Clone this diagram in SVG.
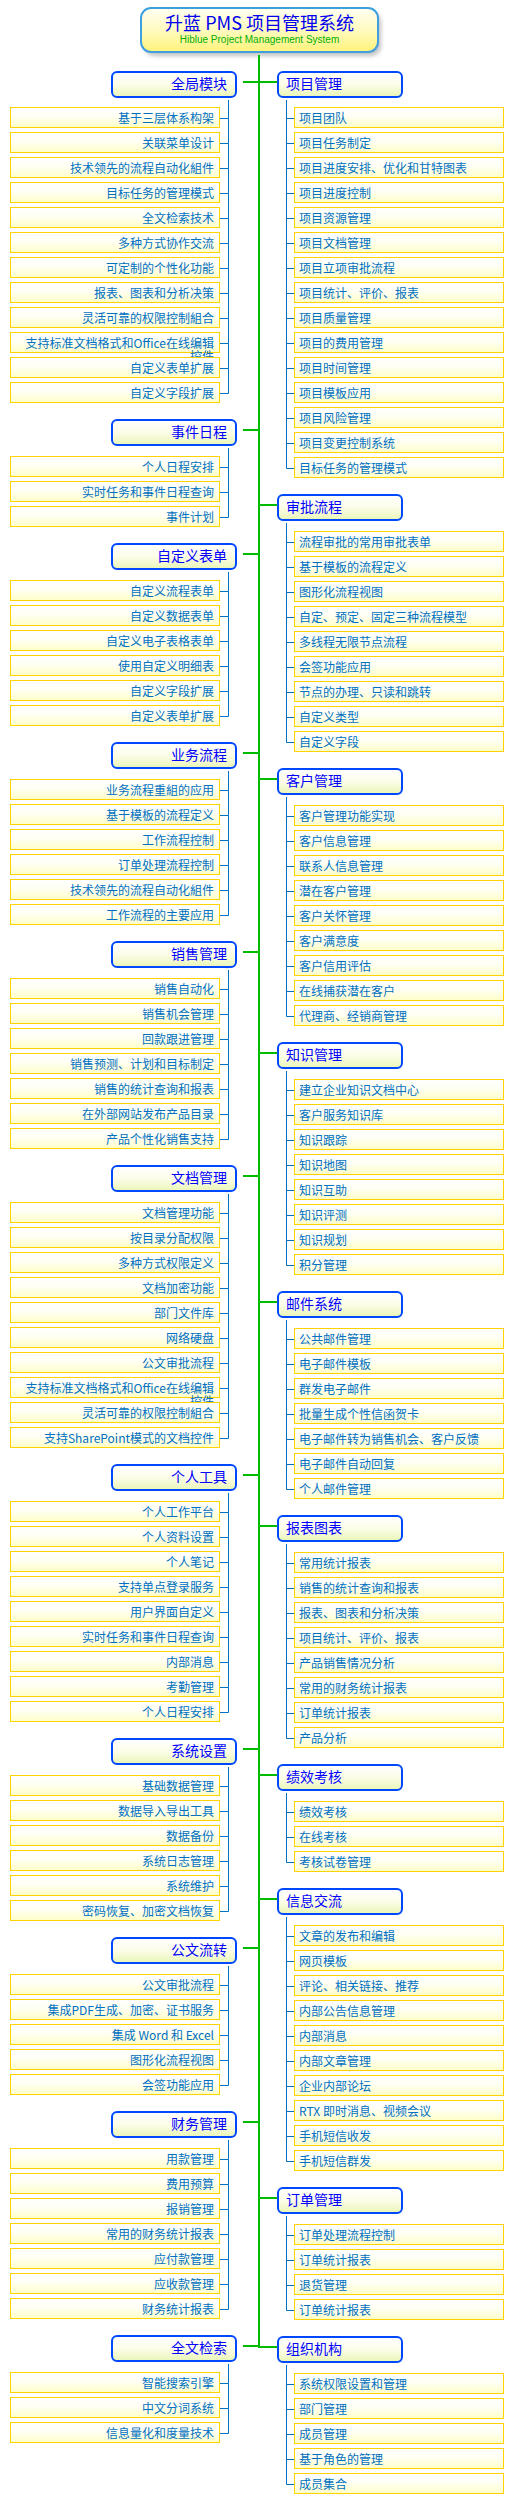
<svg xmlns="http://www.w3.org/2000/svg" width="518" height="2515" viewBox="0 0 518 2515">
<defs>
<linearGradient id="gl" x1="0" y1="0" x2="0" y2="1"><stop offset="0" stop-color="#ffffff"/><stop offset="0.45" stop-color="#fffff4"/><stop offset="1" stop-color="#ffffc8"/></linearGradient>
<linearGradient id="gc" x1="0" y1="0" x2="0" y2="1"><stop offset="0" stop-color="#ffffff"/><stop offset="0.5" stop-color="#fcfde8"/><stop offset="1" stop-color="#e9f6b6"/></linearGradient>
<linearGradient id="gt" x1="0" y1="0" x2="0" y2="1"><stop offset="0" stop-color="#fffff2"/><stop offset="0.5" stop-color="#fffbc0"/><stop offset="1" stop-color="#fff27a"/></linearGradient>
<filter id="sh" x="-10%" y="-30%" width="120%" height="160%"><feGaussianBlur stdDeviation="2"/></filter>
</defs>
<style>
.leaf{fill:url(#gl);stroke:#ffd200;stroke-width:1}
.cat{fill:url(#gc);stroke:#0048ff;stroke-width:2}
.lt{font-family:"Noto Sans CJK SC",sans-serif;font-size:12px;fill:#0070c0}
.e{text-anchor:end}
.ct{font-family:"Noto Sans CJK SC",sans-serif;font-size:14px;fill:#0000ff}
.g{stroke:#00bb00;stroke-width:2;fill:none}
.b{stroke:#0070c0;stroke-width:1;fill:none}
</style>
<rect width="518" height="2515" fill="#ffffff"/>
<g id="title">
<rect x="144" y="12" width="237" height="44" rx="10" fill="#9a9a9a" opacity="0.6" filter="url(#sh)"/>
<rect x="141" y="8" width="237" height="44" rx="10" fill="url(#gt)" stroke="#3fa0e0" stroke-width="2"/>
<text x="259.5" y="30" text-anchor="middle" font-family="Noto Sans CJK SC, sans-serif" font-size="18" fill="#0000ee" xml:space="preserve">升蓝 PMS 项目管理系统</text>
<text x="259.5" y="42.5" text-anchor="middle" font-family="Liberation Sans, sans-serif" font-size="10" fill="#00b000">Hiblue Project Management System</text>
</g>
<g id="connectors">
<path class="g" d="M259 55V2348"/>
<path class="g" d="M243 82H259M243 430H259M243 554H259M243 753H259M243 952H259M243 1176H259M243 1475H259M243 1749H259M243 1948H259M243 2122H259M243 2346H259"/>
<path class="g" d="M259 82H277M259 505H277M259 779H277M259 1053H277M259 1302H277M259 1526H277M259 1775H277M259 1899H277M259 2198H277M258 2347H277"/>
<path class="b" d="M228.5 100V393.5M220 118.5H228.5M220 143.5H228.5M220 168.5H228.5M220 193.5H228.5M220 218.5H228.5M220 243.5H228.5M220 268.5H228.5M220 293.5H228.5M220 318.5H228.5M220 343.5H228.5M220 368.5H228.5M220 393.5H228.5"/>
<path class="b" d="M228.5 448V517.5M220 467.5H228.5M220 492.5H228.5M220 517.5H228.5"/>
<path class="b" d="M228.5 572V716.5M220 591.5H228.5M220 616.5H228.5M220 641.5H228.5M220 666.5H228.5M220 691.5H228.5M220 716.5H228.5"/>
<path class="b" d="M228.5 771V915.5M220 790.5H228.5M220 815.5H228.5M220 840.5H228.5M220 865.5H228.5M220 890.5H228.5M220 915.5H228.5"/>
<path class="b" d="M228.5 970V1139.5M220 989.5H228.5M220 1014.5H228.5M220 1039.5H228.5M220 1064.5H228.5M220 1089.5H228.5M220 1114.5H228.5M220 1139.5H228.5"/>
<path class="b" d="M228.5 1194V1438.5M220 1213.5H228.5M220 1238.5H228.5M220 1263.5H228.5M220 1288.5H228.5M220 1313.5H228.5M220 1338.5H228.5M220 1363.5H228.5M220 1388.5H228.5M220 1413.5H228.5M220 1438.5H228.5"/>
<path class="b" d="M228.5 1493V1712.5M220 1512.5H228.5M220 1537.5H228.5M220 1562.5H228.5M220 1587.5H228.5M220 1612.5H228.5M220 1637.5H228.5M220 1662.5H228.5M220 1687.5H228.5M220 1712.5H228.5"/>
<path class="b" d="M228.5 1767V1911.5M220 1786.5H228.5M220 1811.5H228.5M220 1836.5H228.5M220 1861.5H228.5M220 1886.5H228.5M220 1911.5H228.5"/>
<path class="b" d="M228.5 1966V2085.5M220 1985.5H228.5M220 2010.5H228.5M220 2035.5H228.5M220 2060.5H228.5M220 2085.5H228.5"/>
<path class="b" d="M228.5 2140V2309.5M220 2159.5H228.5M220 2184.5H228.5M220 2209.5H228.5M220 2234.5H228.5M220 2259.5H228.5M220 2284.5H228.5M220 2309.5H228.5"/>
<path class="b" d="M228.5 2364V2433.5M220 2383.5H228.5M220 2408.5H228.5M220 2433.5H228.5"/>
<path class="b" d="M286.5 100V468.5M286.5 118.5H294M286.5 143.5H294M286.5 168.5H294M286.5 193.5H294M286.5 218.5H294M286.5 243.5H294M286.5 268.5H294M286.5 293.5H294M286.5 318.5H294M286.5 343.5H294M286.5 368.5H294M286.5 393.5H294M286.5 418.5H294M286.5 443.5H294M286.5 468.5H294"/>
<path class="b" d="M286.5 523V742.5M286.5 542.5H294M286.5 567.5H294M286.5 592.5H294M286.5 617.5H294M286.5 642.5H294M286.5 667.5H294M286.5 692.5H294M286.5 717.5H294M286.5 742.5H294"/>
<path class="b" d="M286.5 797V1016.5M286.5 816.5H294M286.5 841.5H294M286.5 866.5H294M286.5 891.5H294M286.5 916.5H294M286.5 941.5H294M286.5 966.5H294M286.5 991.5H294M286.5 1016.5H294"/>
<path class="b" d="M286.5 1071V1265.5M286.5 1090.5H294M286.5 1115.5H294M286.5 1140.5H294M286.5 1165.5H294M286.5 1190.5H294M286.5 1215.5H294M286.5 1240.5H294M286.5 1265.5H294"/>
<path class="b" d="M286.5 1320V1489.5M286.5 1339.5H294M286.5 1364.5H294M286.5 1389.5H294M286.5 1414.5H294M286.5 1439.5H294M286.5 1464.5H294M286.5 1489.5H294"/>
<path class="b" d="M286.5 1544V1738.5M286.5 1563.5H294M286.5 1588.5H294M286.5 1613.5H294M286.5 1638.5H294M286.5 1663.5H294M286.5 1688.5H294M286.5 1713.5H294M286.5 1738.5H294"/>
<path class="b" d="M286.5 1793V1862.5M286.5 1812.5H294M286.5 1837.5H294M286.5 1862.5H294"/>
<path class="b" d="M286.5 1917V2161.5M286.5 1936.5H294M286.5 1961.5H294M286.5 1986.5H294M286.5 2011.5H294M286.5 2036.5H294M286.5 2061.5H294M286.5 2086.5H294M286.5 2111.5H294M286.5 2136.5H294M286.5 2161.5H294"/>
<path class="b" d="M286.5 2216V2310.5M286.5 2235.5H294M286.5 2260.5H294M286.5 2285.5H294M286.5 2310.5H294"/>
<path class="b" d="M286.5 2365V2484.5M286.5 2384.5H294M286.5 2409.5H294M286.5 2434.5H294M286.5 2459.5H294M286.5 2484.5H294"/>
</g>
<!-- left categories -->
<g id="c-quanju"><rect class="cat" x="112" y="72" width="124" height="25" rx="5"/><text class="ct e" x="227" y="89">全局模块</text></g>
<g id="c-shijian"><rect class="cat" x="112" y="420" width="124" height="25" rx="5"/><text class="ct e" x="227" y="437">事件日程</text></g>
<g id="c-biaodan"><rect class="cat" x="112" y="544" width="124" height="25" rx="5"/><text class="ct e" x="227" y="561">自定义表单</text></g>
<g id="c-yewu"><rect class="cat" x="112" y="743" width="124" height="25" rx="5"/><text class="ct e" x="227" y="760">业务流程</text></g>
<g id="c-xiaoshou"><rect class="cat" x="112" y="942" width="124" height="25" rx="5"/><text class="ct e" x="227" y="959">销售管理</text></g>
<g id="c-wendang"><rect class="cat" x="112" y="1166" width="124" height="25" rx="5"/><text class="ct e" x="227" y="1183">文档管理</text></g>
<g id="c-geren"><rect class="cat" x="112" y="1465" width="124" height="25" rx="5"/><text class="ct e" x="227" y="1482">个人工具</text></g>
<g id="c-xitong"><rect class="cat" x="112" y="1739" width="124" height="25" rx="5"/><text class="ct e" x="227" y="1756">系统设置</text></g>
<g id="c-gongwen"><rect class="cat" x="112" y="1938" width="124" height="25" rx="5"/><text class="ct e" x="227" y="1955">公文流转</text></g>
<g id="c-caiwu"><rect class="cat" x="112" y="2112" width="124" height="25" rx="5"/><text class="ct e" x="227" y="2129">财务管理</text></g>
<g id="c-jiansuo"><rect class="cat" x="112" y="2336" width="124" height="25" rx="5"/><text class="ct e" x="227" y="2353">全文检索</text></g>
<!-- right categories -->
<g id="c-xiangmu"><rect class="cat" x="278" y="72" width="124" height="25" rx="5"/><text class="ct" x="286" y="89">项目管理</text></g>
<g id="c-shenpi"><rect class="cat" x="278" y="495" width="124" height="25" rx="5"/><text class="ct" x="286" y="512">审批流程</text></g>
<g id="c-kehu"><rect class="cat" x="278" y="769" width="124" height="25" rx="5"/><text class="ct" x="286" y="786">客户管理</text></g>
<g id="c-zhishi"><rect class="cat" x="278" y="1043" width="124" height="25" rx="5"/><text class="ct" x="286" y="1060">知识管理</text></g>
<g id="c-youjian"><rect class="cat" x="278" y="1292" width="124" height="25" rx="5"/><text class="ct" x="286" y="1309">邮件系统</text></g>
<g id="c-baobiao"><rect class="cat" x="278" y="1516" width="124" height="25" rx="5"/><text class="ct" x="286" y="1533">报表图表</text></g>
<g id="c-jixiao"><rect class="cat" x="278" y="1765" width="124" height="25" rx="5"/><text class="ct" x="286" y="1782">绩效考核</text></g>
<g id="c-xinxi"><rect class="cat" x="278" y="1889" width="124" height="25" rx="5"/><text class="ct" x="286" y="1906">信息交流</text></g>
<g id="c-dingdan"><rect class="cat" x="278" y="2188" width="124" height="25" rx="5"/><text class="ct" x="286" y="2205">订单管理</text></g>
<g id="c-zuzhi"><rect class="cat" x="278" y="2337" width="124" height="25" rx="5"/><text class="ct" x="286" y="2354">组织机构</text></g>
<!-- left leaves -->
<g id="l1-1"><rect class="leaf" x="10.5" y="107.5" width="209" height="20"/><text class="lt e" x="214" y="122.5">基于三层体系构架</text></g>
<g id="l1-2"><rect class="leaf" x="10.5" y="132.5" width="209" height="20"/><text class="lt e" x="214" y="147.5">关联菜单设计</text></g>
<g id="l1-3"><rect class="leaf" x="10.5" y="157.5" width="209" height="20"/><text class="lt e" x="214" y="172.5">技术领先的流程自动化組件</text></g>
<g id="l1-4"><rect class="leaf" x="10.5" y="182.5" width="209" height="20"/><text class="lt e" x="214" y="197.5">目标任务的管理模式</text></g>
<g id="l1-5"><rect class="leaf" x="10.5" y="207.5" width="209" height="20"/><text class="lt e" x="214" y="222.5">全文检索技术</text></g>
<g id="l1-6"><rect class="leaf" x="10.5" y="232.5" width="209" height="20"/><text class="lt e" x="214" y="247.5">多种方式协作交流</text></g>
<g id="l1-7"><rect class="leaf" x="10.5" y="257.5" width="209" height="20"/><text class="lt e" x="214" y="272.5">可定制的个性化功能</text></g>
<g id="l1-8"><rect class="leaf" x="10.5" y="282.5" width="209" height="20"/><text class="lt e" x="214" y="297.5">报表、图表和分析决策</text></g>
<g id="l1-9"><rect class="leaf" x="10.5" y="307.5" width="209" height="20"/><text class="lt e" x="214" y="322.5">灵活可靠的权限控制組合</text></g>
<g id="l1-10"><rect class="leaf" x="10.5" y="332.5" width="209" height="20"/><text class="lt e" x="214" y="347.5">支持标准文档格式和Office在线编辑<tspan x="214" dy="13">控件</tspan></text></g>
<g id="l1-11"><rect class="leaf" x="10.5" y="357.5" width="209" height="20"/><text class="lt e" x="214" y="372.5">自定义表单扩展</text></g>
<g id="l1-12"><rect class="leaf" x="10.5" y="382.5" width="209" height="20"/><text class="lt e" x="214" y="397.5">自定义字段扩展</text></g>
<g id="l2-1"><rect class="leaf" x="10.5" y="456.5" width="209" height="20"/><text class="lt e" x="214" y="471.5">个人日程安排</text></g>
<g id="l2-2"><rect class="leaf" x="10.5" y="481.5" width="209" height="20"/><text class="lt e" x="214" y="496.5">实时任务和事件日程查询</text></g>
<g id="l2-3"><rect class="leaf" x="10.5" y="506.5" width="209" height="20"/><text class="lt e" x="214" y="521.5">事件计划</text></g>
<g id="l3-1"><rect class="leaf" x="10.5" y="580.5" width="209" height="20"/><text class="lt e" x="214" y="595.5">自定义流程表单</text></g>
<g id="l3-2"><rect class="leaf" x="10.5" y="605.5" width="209" height="20"/><text class="lt e" x="214" y="620.5">自定义数据表单</text></g>
<g id="l3-3"><rect class="leaf" x="10.5" y="630.5" width="209" height="20"/><text class="lt e" x="214" y="645.5">自定义电子表格表单</text></g>
<g id="l3-4"><rect class="leaf" x="10.5" y="655.5" width="209" height="20"/><text class="lt e" x="214" y="670.5">使用自定义明细表</text></g>
<g id="l3-5"><rect class="leaf" x="10.5" y="680.5" width="209" height="20"/><text class="lt e" x="214" y="695.5">自定义字段扩展</text></g>
<g id="l3-6"><rect class="leaf" x="10.5" y="705.5" width="209" height="20"/><text class="lt e" x="214" y="720.5">自定义表单扩展</text></g>
<g id="l4-1"><rect class="leaf" x="10.5" y="779.5" width="209" height="20"/><text class="lt e" x="214" y="794.5">业务流程重組的应用</text></g>
<g id="l4-2"><rect class="leaf" x="10.5" y="804.5" width="209" height="20"/><text class="lt e" x="214" y="819.5">基于模板的流程定义</text></g>
<g id="l4-3"><rect class="leaf" x="10.5" y="829.5" width="209" height="20"/><text class="lt e" x="214" y="844.5">工作流程控制</text></g>
<g id="l4-4"><rect class="leaf" x="10.5" y="854.5" width="209" height="20"/><text class="lt e" x="214" y="869.5">订单处理流程控制</text></g>
<g id="l4-5"><rect class="leaf" x="10.5" y="879.5" width="209" height="20"/><text class="lt e" x="214" y="894.5">技术领先的流程自动化組件</text></g>
<g id="l4-6"><rect class="leaf" x="10.5" y="904.5" width="209" height="20"/><text class="lt e" x="214" y="919.5">工作流程的主要应用</text></g>
<g id="l5-1"><rect class="leaf" x="10.5" y="978.5" width="209" height="20"/><text class="lt e" x="214" y="993.5">销售自动化</text></g>
<g id="l5-2"><rect class="leaf" x="10.5" y="1003.5" width="209" height="20"/><text class="lt e" x="214" y="1018.5">销售机会管理</text></g>
<g id="l5-3"><rect class="leaf" x="10.5" y="1028.5" width="209" height="20"/><text class="lt e" x="214" y="1043.5">回款跟进管理</text></g>
<g id="l5-4"><rect class="leaf" x="10.5" y="1053.5" width="209" height="20"/><text class="lt e" x="214" y="1068.5">销售预测、计划和目标制定</text></g>
<g id="l5-5"><rect class="leaf" x="10.5" y="1078.5" width="209" height="20"/><text class="lt e" x="214" y="1093.5">销售的统计查询和报表</text></g>
<g id="l5-6"><rect class="leaf" x="10.5" y="1103.5" width="209" height="20"/><text class="lt e" x="214" y="1118.5">在外部网站发布产品目录</text></g>
<g id="l5-7"><rect class="leaf" x="10.5" y="1128.5" width="209" height="20"/><text class="lt e" x="214" y="1143.5">产品个性化销售支持</text></g>
<g id="l6-1"><rect class="leaf" x="10.5" y="1202.5" width="209" height="20"/><text class="lt e" x="214" y="1217.5">文档管理功能</text></g>
<g id="l6-2"><rect class="leaf" x="10.5" y="1227.5" width="209" height="20"/><text class="lt e" x="214" y="1242.5">按目录分配权限</text></g>
<g id="l6-3"><rect class="leaf" x="10.5" y="1252.5" width="209" height="20"/><text class="lt e" x="214" y="1267.5">多种方式权限定义</text></g>
<g id="l6-4"><rect class="leaf" x="10.5" y="1277.5" width="209" height="20"/><text class="lt e" x="214" y="1292.5">文档加密功能</text></g>
<g id="l6-5"><rect class="leaf" x="10.5" y="1302.5" width="209" height="20"/><text class="lt e" x="214" y="1317.5">部门文件库</text></g>
<g id="l6-6"><rect class="leaf" x="10.5" y="1327.5" width="209" height="20"/><text class="lt e" x="214" y="1342.5">网络硬盘</text></g>
<g id="l6-7"><rect class="leaf" x="10.5" y="1352.5" width="209" height="20"/><text class="lt e" x="214" y="1367.5">公文审批流程</text></g>
<g id="l6-8"><rect class="leaf" x="10.5" y="1377.5" width="209" height="20"/><text class="lt e" x="214" y="1392.5">支持标准文档格式和Office在线编辑<tspan x="214" dy="13">控件</tspan></text></g>
<g id="l6-9"><rect class="leaf" x="10.5" y="1402.5" width="209" height="20"/><text class="lt e" x="214" y="1417.5">灵活可靠的权限控制組合</text></g>
<g id="l6-10"><rect class="leaf" x="10.5" y="1427.5" width="209" height="20"/><text class="lt e" x="214" y="1442.5">支持SharePoint模式的文档控件</text></g>
<g id="l7-1"><rect class="leaf" x="10.5" y="1501.5" width="209" height="20"/><text class="lt e" x="214" y="1516.5">个人工作平台</text></g>
<g id="l7-2"><rect class="leaf" x="10.5" y="1526.5" width="209" height="20"/><text class="lt e" x="214" y="1541.5">个人资料设置</text></g>
<g id="l7-3"><rect class="leaf" x="10.5" y="1551.5" width="209" height="20"/><text class="lt e" x="214" y="1566.5">个人笔记</text></g>
<g id="l7-4"><rect class="leaf" x="10.5" y="1576.5" width="209" height="20"/><text class="lt e" x="214" y="1591.5">支持单点登录服务</text></g>
<g id="l7-5"><rect class="leaf" x="10.5" y="1601.5" width="209" height="20"/><text class="lt e" x="214" y="1616.5">用户界面自定义</text></g>
<g id="l7-6"><rect class="leaf" x="10.5" y="1626.5" width="209" height="20"/><text class="lt e" x="214" y="1641.5">实时任务和事件日程查询</text></g>
<g id="l7-7"><rect class="leaf" x="10.5" y="1651.5" width="209" height="20"/><text class="lt e" x="214" y="1666.5">内部消息</text></g>
<g id="l7-8"><rect class="leaf" x="10.5" y="1676.5" width="209" height="20"/><text class="lt e" x="214" y="1691.5">考勤管理</text></g>
<g id="l7-9"><rect class="leaf" x="10.5" y="1701.5" width="209" height="20"/><text class="lt e" x="214" y="1716.5">个人日程安排</text></g>
<g id="l8-1"><rect class="leaf" x="10.5" y="1775.5" width="209" height="20"/><text class="lt e" x="214" y="1790.5">基础数据管理</text></g>
<g id="l8-2"><rect class="leaf" x="10.5" y="1800.5" width="209" height="20"/><text class="lt e" x="214" y="1815.5">数据导入导出工具</text></g>
<g id="l8-3"><rect class="leaf" x="10.5" y="1825.5" width="209" height="20"/><text class="lt e" x="214" y="1840.5">数据备份</text></g>
<g id="l8-4"><rect class="leaf" x="10.5" y="1850.5" width="209" height="20"/><text class="lt e" x="214" y="1865.5">系统日志管理</text></g>
<g id="l8-5"><rect class="leaf" x="10.5" y="1875.5" width="209" height="20"/><text class="lt e" x="214" y="1890.5">系统维护</text></g>
<g id="l8-6"><rect class="leaf" x="10.5" y="1900.5" width="209" height="20"/><text class="lt e" x="214" y="1915.5">密码恢复、加密文档恢复</text></g>
<g id="l9-1"><rect class="leaf" x="10.5" y="1974.5" width="209" height="20"/><text class="lt e" x="214" y="1989.5">公文审批流程</text></g>
<g id="l9-2"><rect class="leaf" x="10.5" y="1999.5" width="209" height="20"/><text class="lt e" x="214" y="2014.5">集成PDF生成、加密、证书服务</text></g>
<g id="l9-3"><rect class="leaf" x="10.5" y="2024.5" width="209" height="20"/><text class="lt e" x="214" y="2039.5" xml:space="preserve">集成 Word 和 Excel</text></g>
<g id="l9-4"><rect class="leaf" x="10.5" y="2049.5" width="209" height="20"/><text class="lt e" x="214" y="2064.5">图形化流程视图</text></g>
<g id="l9-5"><rect class="leaf" x="10.5" y="2074.5" width="209" height="20"/><text class="lt e" x="214" y="2089.5">会签功能应用</text></g>
<g id="l10-1"><rect class="leaf" x="10.5" y="2148.5" width="209" height="20"/><text class="lt e" x="214" y="2163.5">用款管理</text></g>
<g id="l10-2"><rect class="leaf" x="10.5" y="2173.5" width="209" height="20"/><text class="lt e" x="214" y="2188.5">费用预算</text></g>
<g id="l10-3"><rect class="leaf" x="10.5" y="2198.5" width="209" height="20"/><text class="lt e" x="214" y="2213.5">报销管理</text></g>
<g id="l10-4"><rect class="leaf" x="10.5" y="2223.5" width="209" height="20"/><text class="lt e" x="214" y="2238.5">常用的财务统计报表</text></g>
<g id="l10-5"><rect class="leaf" x="10.5" y="2248.5" width="209" height="20"/><text class="lt e" x="214" y="2263.5">应付款管理</text></g>
<g id="l10-6"><rect class="leaf" x="10.5" y="2273.5" width="209" height="20"/><text class="lt e" x="214" y="2288.5">应收款管理</text></g>
<g id="l10-7"><rect class="leaf" x="10.5" y="2298.5" width="209" height="20"/><text class="lt e" x="214" y="2313.5">财务统计报表</text></g>
<g id="l11-1"><rect class="leaf" x="10.5" y="2372.5" width="209" height="20"/><text class="lt e" x="214" y="2387.5">智能搜索引擎</text></g>
<g id="l11-2"><rect class="leaf" x="10.5" y="2397.5" width="209" height="20"/><text class="lt e" x="214" y="2412.5">中文分词系统</text></g>
<g id="l11-3"><rect class="leaf" x="10.5" y="2422.5" width="209" height="20"/><text class="lt e" x="214" y="2437.5">信息量化和度量技术</text></g>
<!-- right leaves -->
<g id="r1-1"><rect class="leaf" x="294.5" y="107.5" width="209" height="20"/><text class="lt" x="299" y="122.5">项目团队</text></g>
<g id="r1-2"><rect class="leaf" x="294.5" y="132.5" width="209" height="20"/><text class="lt" x="299" y="147.5">项目任务制定</text></g>
<g id="r1-3"><rect class="leaf" x="294.5" y="157.5" width="209" height="20"/><text class="lt" x="299" y="172.5">项目进度安排、优化和甘特图表</text></g>
<g id="r1-4"><rect class="leaf" x="294.5" y="182.5" width="209" height="20"/><text class="lt" x="299" y="197.5">项目进度控制</text></g>
<g id="r1-5"><rect class="leaf" x="294.5" y="207.5" width="209" height="20"/><text class="lt" x="299" y="222.5">项目资源管理</text></g>
<g id="r1-6"><rect class="leaf" x="294.5" y="232.5" width="209" height="20"/><text class="lt" x="299" y="247.5">项目文档管理</text></g>
<g id="r1-7"><rect class="leaf" x="294.5" y="257.5" width="209" height="20"/><text class="lt" x="299" y="272.5">项目立项审批流程</text></g>
<g id="r1-8"><rect class="leaf" x="294.5" y="282.5" width="209" height="20"/><text class="lt" x="299" y="297.5">项目统计、评价、报表</text></g>
<g id="r1-9"><rect class="leaf" x="294.5" y="307.5" width="209" height="20"/><text class="lt" x="299" y="322.5">项目质量管理</text></g>
<g id="r1-10"><rect class="leaf" x="294.5" y="332.5" width="209" height="20"/><text class="lt" x="299" y="347.5">项目的费用管理</text></g>
<g id="r1-11"><rect class="leaf" x="294.5" y="357.5" width="209" height="20"/><text class="lt" x="299" y="372.5">项目时间管理</text></g>
<g id="r1-12"><rect class="leaf" x="294.5" y="382.5" width="209" height="20"/><text class="lt" x="299" y="397.5">项目模板应用</text></g>
<g id="r1-13"><rect class="leaf" x="294.5" y="407.5" width="209" height="20"/><text class="lt" x="299" y="422.5">项目风险管理</text></g>
<g id="r1-14"><rect class="leaf" x="294.5" y="432.5" width="209" height="20"/><text class="lt" x="299" y="447.5">项目变更控制系统</text></g>
<g id="r1-15"><rect class="leaf" x="294.5" y="457.5" width="209" height="20"/><text class="lt" x="299" y="472.5">目标任务的管理模式</text></g>
<g id="r2-1"><rect class="leaf" x="294.5" y="531.5" width="209" height="20"/><text class="lt" x="299" y="546.5">流程审批的常用审批表单</text></g>
<g id="r2-2"><rect class="leaf" x="294.5" y="556.5" width="209" height="20"/><text class="lt" x="299" y="571.5">基于模板的流程定义</text></g>
<g id="r2-3"><rect class="leaf" x="294.5" y="581.5" width="209" height="20"/><text class="lt" x="299" y="596.5">图形化流程视图</text></g>
<g id="r2-4"><rect class="leaf" x="294.5" y="606.5" width="209" height="20"/><text class="lt" x="299" y="621.5">自定、预定、固定三种流程模型</text></g>
<g id="r2-5"><rect class="leaf" x="294.5" y="631.5" width="209" height="20"/><text class="lt" x="299" y="646.5">多线程无限节点流程</text></g>
<g id="r2-6"><rect class="leaf" x="294.5" y="656.5" width="209" height="20"/><text class="lt" x="299" y="671.5">会签功能应用</text></g>
<g id="r2-7"><rect class="leaf" x="294.5" y="681.5" width="209" height="20"/><text class="lt" x="299" y="696.5">节点的办理、只读和跳转</text></g>
<g id="r2-8"><rect class="leaf" x="294.5" y="706.5" width="209" height="20"/><text class="lt" x="299" y="721.5">自定义类型</text></g>
<g id="r2-9"><rect class="leaf" x="294.5" y="731.5" width="209" height="20"/><text class="lt" x="299" y="746.5">自定义字段</text></g>
<g id="r3-1"><rect class="leaf" x="294.5" y="805.5" width="209" height="20"/><text class="lt" x="299" y="820.5">客户管理功能实现</text></g>
<g id="r3-2"><rect class="leaf" x="294.5" y="830.5" width="209" height="20"/><text class="lt" x="299" y="845.5">客户信息管理</text></g>
<g id="r3-3"><rect class="leaf" x="294.5" y="855.5" width="209" height="20"/><text class="lt" x="299" y="870.5">联系人信息管理</text></g>
<g id="r3-4"><rect class="leaf" x="294.5" y="880.5" width="209" height="20"/><text class="lt" x="299" y="895.5">潜在客户管理</text></g>
<g id="r3-5"><rect class="leaf" x="294.5" y="905.5" width="209" height="20"/><text class="lt" x="299" y="920.5">客户关怀管理</text></g>
<g id="r3-6"><rect class="leaf" x="294.5" y="930.5" width="209" height="20"/><text class="lt" x="299" y="945.5">客户满意度</text></g>
<g id="r3-7"><rect class="leaf" x="294.5" y="955.5" width="209" height="20"/><text class="lt" x="299" y="970.5">客户信用评估</text></g>
<g id="r3-8"><rect class="leaf" x="294.5" y="980.5" width="209" height="20"/><text class="lt" x="299" y="995.5">在线捕获潜在客户</text></g>
<g id="r3-9"><rect class="leaf" x="294.5" y="1005.5" width="209" height="20"/><text class="lt" x="299" y="1020.5">代理商、经销商管理</text></g>
<g id="r4-1"><rect class="leaf" x="294.5" y="1079.5" width="209" height="20"/><text class="lt" x="299" y="1094.5">建立企业知识文档中心</text></g>
<g id="r4-2"><rect class="leaf" x="294.5" y="1104.5" width="209" height="20"/><text class="lt" x="299" y="1119.5">客户服务知识库</text></g>
<g id="r4-3"><rect class="leaf" x="294.5" y="1129.5" width="209" height="20"/><text class="lt" x="299" y="1144.5">知识跟踪</text></g>
<g id="r4-4"><rect class="leaf" x="294.5" y="1154.5" width="209" height="20"/><text class="lt" x="299" y="1169.5">知识地图</text></g>
<g id="r4-5"><rect class="leaf" x="294.5" y="1179.5" width="209" height="20"/><text class="lt" x="299" y="1194.5">知识互助</text></g>
<g id="r4-6"><rect class="leaf" x="294.5" y="1204.5" width="209" height="20"/><text class="lt" x="299" y="1219.5">知识评测</text></g>
<g id="r4-7"><rect class="leaf" x="294.5" y="1229.5" width="209" height="20"/><text class="lt" x="299" y="1244.5">知识规划</text></g>
<g id="r4-8"><rect class="leaf" x="294.5" y="1254.5" width="209" height="20"/><text class="lt" x="299" y="1269.5">积分管理</text></g>
<g id="r5-1"><rect class="leaf" x="294.5" y="1328.5" width="209" height="20"/><text class="lt" x="299" y="1343.5">公共邮件管理</text></g>
<g id="r5-2"><rect class="leaf" x="294.5" y="1353.5" width="209" height="20"/><text class="lt" x="299" y="1368.5">电子邮件模板</text></g>
<g id="r5-3"><rect class="leaf" x="294.5" y="1378.5" width="209" height="20"/><text class="lt" x="299" y="1393.5">群发电子邮件</text></g>
<g id="r5-4"><rect class="leaf" x="294.5" y="1403.5" width="209" height="20"/><text class="lt" x="299" y="1418.5">批量生成个性信函贺卡</text></g>
<g id="r5-5"><rect class="leaf" x="294.5" y="1428.5" width="209" height="20"/><text class="lt" x="299" y="1443.5">电子邮件转为销售机会、客户反馈</text></g>
<g id="r5-6"><rect class="leaf" x="294.5" y="1453.5" width="209" height="20"/><text class="lt" x="299" y="1468.5">电子邮件自动回复</text></g>
<g id="r5-7"><rect class="leaf" x="294.5" y="1478.5" width="209" height="20"/><text class="lt" x="299" y="1493.5">个人邮件管理</text></g>
<g id="r6-1"><rect class="leaf" x="294.5" y="1552.5" width="209" height="20"/><text class="lt" x="299" y="1567.5">常用统计报表</text></g>
<g id="r6-2"><rect class="leaf" x="294.5" y="1577.5" width="209" height="20"/><text class="lt" x="299" y="1592.5">销售的统计查询和报表</text></g>
<g id="r6-3"><rect class="leaf" x="294.5" y="1602.5" width="209" height="20"/><text class="lt" x="299" y="1617.5">报表、图表和分析决策</text></g>
<g id="r6-4"><rect class="leaf" x="294.5" y="1627.5" width="209" height="20"/><text class="lt" x="299" y="1642.5">项目统计、评价、报表</text></g>
<g id="r6-5"><rect class="leaf" x="294.5" y="1652.5" width="209" height="20"/><text class="lt" x="299" y="1667.5">产品销售情况分析</text></g>
<g id="r6-6"><rect class="leaf" x="294.5" y="1677.5" width="209" height="20"/><text class="lt" x="299" y="1692.5">常用的财务统计报表</text></g>
<g id="r6-7"><rect class="leaf" x="294.5" y="1702.5" width="209" height="20"/><text class="lt" x="299" y="1717.5">订单统计报表</text></g>
<g id="r6-8"><rect class="leaf" x="294.5" y="1727.5" width="209" height="20"/><text class="lt" x="299" y="1742.5">产品分析</text></g>
<g id="r7-1"><rect class="leaf" x="294.5" y="1801.5" width="209" height="20"/><text class="lt" x="299" y="1816.5">绩效考核</text></g>
<g id="r7-2"><rect class="leaf" x="294.5" y="1826.5" width="209" height="20"/><text class="lt" x="299" y="1841.5">在线考核</text></g>
<g id="r7-3"><rect class="leaf" x="294.5" y="1851.5" width="209" height="20"/><text class="lt" x="299" y="1866.5">考核试卷管理</text></g>
<g id="r8-1"><rect class="leaf" x="294.5" y="1925.5" width="209" height="20"/><text class="lt" x="299" y="1940.5">文章的发布和编辑</text></g>
<g id="r8-2"><rect class="leaf" x="294.5" y="1950.5" width="209" height="20"/><text class="lt" x="299" y="1965.5">网页模板</text></g>
<g id="r8-3"><rect class="leaf" x="294.5" y="1975.5" width="209" height="20"/><text class="lt" x="299" y="1990.5">评论、相关链接、推荐</text></g>
<g id="r8-4"><rect class="leaf" x="294.5" y="2000.5" width="209" height="20"/><text class="lt" x="299" y="2015.5">内部公告信息管理</text></g>
<g id="r8-5"><rect class="leaf" x="294.5" y="2025.5" width="209" height="20"/><text class="lt" x="299" y="2040.5">内部消息</text></g>
<g id="r8-6"><rect class="leaf" x="294.5" y="2050.5" width="209" height="20"/><text class="lt" x="299" y="2065.5">内部文章管理</text></g>
<g id="r8-7"><rect class="leaf" x="294.5" y="2075.5" width="209" height="20"/><text class="lt" x="299" y="2090.5">企业内部论坛</text></g>
<g id="r8-8"><rect class="leaf" x="294.5" y="2100.5" width="209" height="20"/><text class="lt" x="299" y="2115.5" xml:space="preserve">RTX 即时消息、视频会议</text></g>
<g id="r8-9"><rect class="leaf" x="294.5" y="2125.5" width="209" height="20"/><text class="lt" x="299" y="2140.5">手机短信收发</text></g>
<g id="r8-10"><rect class="leaf" x="294.5" y="2150.5" width="209" height="20"/><text class="lt" x="299" y="2165.5">手机短信群发</text></g>
<g id="r9-1"><rect class="leaf" x="294.5" y="2224.5" width="209" height="20"/><text class="lt" x="299" y="2239.5">订单处理流程控制</text></g>
<g id="r9-2"><rect class="leaf" x="294.5" y="2249.5" width="209" height="20"/><text class="lt" x="299" y="2264.5">订单统计报表</text></g>
<g id="r9-3"><rect class="leaf" x="294.5" y="2274.5" width="209" height="20"/><text class="lt" x="299" y="2289.5">退货管理</text></g>
<g id="r9-4"><rect class="leaf" x="294.5" y="2299.5" width="209" height="20"/><text class="lt" x="299" y="2314.5">订单统计报表</text></g>
<g id="r10-1"><rect class="leaf" x="294.5" y="2373.5" width="209" height="20"/><text class="lt" x="299" y="2388.5">系统权限设置和管理</text></g>
<g id="r10-2"><rect class="leaf" x="294.5" y="2398.5" width="209" height="20"/><text class="lt" x="299" y="2413.5">部门管理</text></g>
<g id="r10-3"><rect class="leaf" x="294.5" y="2423.5" width="209" height="20"/><text class="lt" x="299" y="2438.5">成员管理</text></g>
<g id="r10-4"><rect class="leaf" x="294.5" y="2448.5" width="209" height="20"/><text class="lt" x="299" y="2463.5">基于角色的管理</text></g>
<g id="r10-5"><rect class="leaf" x="294.5" y="2473.5" width="209" height="20"/><text class="lt" x="299" y="2488.5">成员集合</text></g>
</svg>
